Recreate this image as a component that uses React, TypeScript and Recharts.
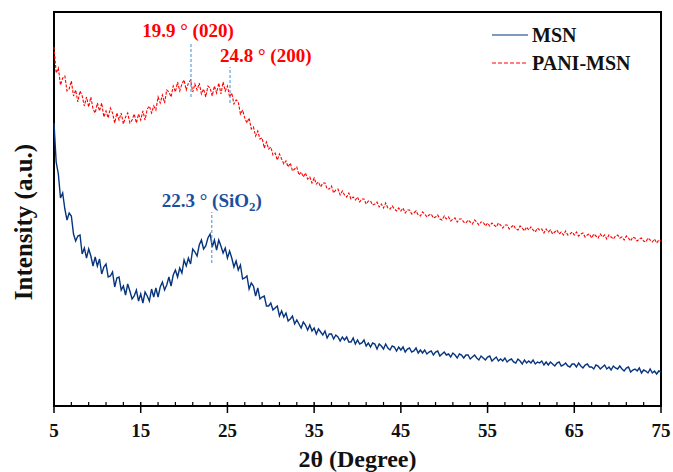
import { LineChart, Line, XAxis, YAxis, ReferenceLine, ReferenceArea, Legend } from "recharts";

// 2θ grid of the scan: 5° to 75° every 0.25°
const START = 5;
const STEP = 0.25;

// intensity (a.u.), one row per 5°
const msn = [
  283, 244, 232, 208, 213, 197, 186, 193, 190, 172, 165, 170, 171, 152, 158, 148, 157, 150, 140, 149,
  140, 147, 132, 139, 142, 129, 130, 134, 119, 128, 129, 116, 120, 111, 122, 115, 107, 110, 116, 105,
  112, 103, 114, 110, 105, 117, 109, 118, 109, 119, 124, 116, 121, 129, 120, 131, 136, 129, 138, 133,
  146, 140, 148, 142, 157, 154, 150, 161, 166, 157, 160, 168, 172, 159, 166, 156, 166, 160, 153, 158,
  148, 155, 148, 139, 145, 136, 141, 127, 128, 130, 117, 123, 120, 110, 118, 107, 109, 110, 100, 100,
  103, 96, 98, 100, 90, 95, 89, 93, 85, 87, 90, 82, 86, 82, 78, 84, 81, 76, 81, 75,
  78, 72, 77, 74, 71, 75, 68, 72, 72, 67, 71, 69, 65, 69, 66, 69, 64, 64, 68, 62,
  66, 62, 63, 66, 60, 63, 59, 63, 62, 57, 62, 60, 57, 62, 58, 56, 60, 59, 55, 59,
  56, 59, 54, 57, 58, 54, 55, 58, 53, 56, 53, 56, 52, 54, 55, 51, 54, 55, 50, 52,
  54, 51, 52, 49, 53, 51, 48, 52, 51, 48, 51, 51, 47, 49, 51, 48, 46, 50, 48, 46,
  49, 50, 45, 47, 49, 45, 47, 45, 48, 44, 46, 47, 44, 43, 47, 45, 42, 46, 43, 45,
  43, 46, 42, 44, 43, 45, 41, 44, 41, 44, 42, 40, 43, 44, 40, 41, 43, 40, 39, 42,
  42, 39, 43, 40, 38, 41, 42, 39, 39, 37, 41, 40, 37, 39, 41, 37, 39, 36, 40, 38,
  37, 40, 37, 35, 38, 39, 34, 36, 37, 35, 38, 33, 36, 35, 33, 37, 33, 35, 32, 35, 34,
];

const paniMsn = [
  359, 333, 338, 321, 328, 330, 315, 317, 325, 310, 316, 304, 315, 310, 300, 309, 299, 309, 297, 293,
  303, 295, 303, 289, 295, 288, 298, 293, 283, 293, 286, 293, 282, 289, 293, 283, 286, 292, 283, 292,
  286, 295, 286, 297, 300, 293, 300, 296, 309, 303, 311, 303, 316, 314, 309, 320, 314, 324, 315, 322,
  326, 316, 323, 326, 314, 322, 316, 323, 312, 317, 309, 320, 318, 310, 320, 313, 323, 312, 324, 315,
  320, 309, 313, 302, 306, 304, 292, 296, 288, 283, 288, 277, 279, 270, 275, 267, 268, 258, 264, 257,
  259, 251, 253, 246, 252, 247, 242, 245, 239, 243, 235, 237, 239, 231, 234, 229, 233, 227, 229, 223,
  228, 222, 224, 219, 223, 223, 217, 217, 220, 213, 216, 217, 211, 215, 211, 209, 213, 207, 209, 206,
  209, 204, 207, 207, 202, 205, 205, 201, 202, 204, 199, 202, 198, 203, 198, 197, 200, 197, 195, 198,
  195, 198, 193, 196, 196, 192, 193, 195, 191, 190, 194, 192, 189, 191, 192, 188, 189, 191, 187, 186,
  190, 187, 189, 185, 187, 188, 184, 187, 187, 184, 183, 186, 184, 182, 186, 184, 181, 184, 184, 180,
  183, 180, 183, 181, 179, 183, 181, 178, 181, 181, 177, 179, 181, 177, 176, 180, 178, 175, 179, 176,
  179, 176, 174, 178, 176, 177, 173, 177, 174, 176, 172, 174, 176, 172, 174, 171, 175, 171, 172, 174,
  171, 174, 170, 172, 173, 169, 171, 172, 168, 172, 170, 168, 172, 169, 171, 167, 171, 169, 167, 170,
  171, 168, 169, 166, 170, 168, 165, 169, 168, 165, 167, 168, 165, 164, 168, 166, 164, 167, 163, 166, 165,
];

const xTicks = [
  5, 7, 9, 11, 13, 15, 17, 19, 21, 23, 25, 27, 29, 31, 33, 35, 37, 39, 41, 43, 45,
  47, 49, 51, 53, 55, 57, 59, 61, 63, 65, 67, 69, 71, 73, 75,
];
const xLabels = [5, 15, 25, 35, 45, 55, 65, 75];

// peak markers: position, dashed line span, label
const peakX = [20.8, 25.3, 23.2];
const peakFrom = [309, 303, 143];
const peakTo = [364, 339, 194];
const peakText = ["19.9 ° (020)", "24.8 ° (200)", "22.3 ° (SiO"];
const peakSub = ["", "", "2"];
const peakTail = ["", "", ")"];

const seriesNames = ["MSN", "PANI-MSN"];

const data = msn.map((v, i) => ({
  x: START + i * STEP,
  msn: v,
  pani: paniMsn[i],
}));

const FONT = '"Liberation Serif", "Times New Roman", serif';
const NAVY = "#06347e";
const RED = "#ff0000";

const XTick = ({ x, y, payload }: any) => {
  const major = xLabels.includes(payload.value);
  return (
    <g>
      {major ? (
        <line x1={x} x2={x} y1={y - 4} y2={y + 7} stroke="#000" strokeWidth={1.5} />
      ) : (
        <line x1={x} x2={x} y1={y - 4} y2={y} stroke="#000" strokeWidth={1.2} />
      )}
      {major && (
        <text x={x} y={y + 31} textAnchor="middle" fontFamily={FONT} fontWeight={700} fontSize={19} fill="#111">
          {payload.value}
        </text>
      )}
    </g>
  );
};

const peakLabel = (i: number) => (props: any) => {
  const vb = props.viewBox || {};
  const color = i === 2 ? "#1d4f9c" : RED;
  const anchor = i === 1 ? "start" : "middle";
  const dx = i === 1 ? -10 : i === 0 ? -3 : 0;
  return (
    <text
      x={vb.x + dx}
      y={vb.y - 5}
      textAnchor={anchor}
      fontFamily={FONT}
      fontWeight={700}
      fontSize={19}
      fill={color}
    >
      {peakText[i]}
      {peakSub[i] && (
        <tspan fontSize={13} dy={4}>
          {peakSub[i]}
        </tspan>
      )}
      {peakTail[i] && <tspan dy={-4}>{peakTail[i]}</tspan>}
    </text>
  );
};

// both axis titles hang off the x axis box (plot is 394px tall)
const axisTitles = (props: any) => {
  const vb = props.viewBox;
  const cx = vb.x - 22;
  const cy = vb.y - 394 / 2 + 13;
  return (
    <g fontFamily={FONT} fontWeight={700} fill="#111">
      <text x={vb.x + vb.width / 2} y={vb.y + 61} textAnchor="middle" fontSize={24}>
        2θ (Degree)
      </text>
      <text x={cx} y={cy} transform={`rotate(-90, ${cx}, ${cy})`} textAnchor="middle" fontSize={25}>
        Intensity (a.u.)
      </text>
    </g>
  );
};

const renderLegend = () => (
  <div style={{ fontFamily: FONT, fontWeight: 700, fontSize: 20, color: "#111" }}>
    {seriesNames.map((name, i) => (
      <div key={name} style={{ display: "flex", alignItems: "center", height: 28 }}>
        <svg width={40} height={10}>
          <line
            x1={2}
            x2={38}
            y1={5}
            y2={5}
            stroke={i === 0 ? NAVY : RED}
            strokeWidth={1.2}
            strokeDasharray={i === 0 ? undefined : "4 2"}
          />
        </svg>
        <span style={{ marginLeft: 2, lineHeight: "20px" }}>{name}</span>
      </div>
    ))}
  </div>
);

export default function App() {
  return (
    <div style={{ position: "absolute", left: 0, top: 0, background: "#fff" }}>
      <LineChart
        width={673}
        height={472}
        data={data}
        margin={{ top: 12, right: 12, left: 54, bottom: 36 }}
      >
        <XAxis
          dataKey="x"
          type="number"
          domain={[5, 75]}
          ticks={xTicks}
          interval={0}
          tick={<XTick />}
          tickLine={false}
          tickSize={0}
          tickMargin={0}
          height={30}
          axisLine={{ stroke: "#000", strokeWidth: 2 }}
          label={{ content: axisTitles }}
        />
        <YAxis
          type="number"
          domain={[0, 394]}
          width={0}
          tick={false}
          tickLine={false}
          axisLine={{ stroke: "#000", strokeWidth: 2 }}
        />
        <ReferenceArea x1={5} x2={75} y1={0} y2={394} fill="none" stroke="#000" strokeWidth={2} />
        <Line
          dataKey="pani"
          name={seriesNames[1]}
          stroke={RED}
          strokeWidth={1.1}
          strokeDasharray="3 1.5"
          dot={false}
          isAnimationActive={false}
        />
        <Line
          dataKey="msn"
          name={seriesNames[0]}
          stroke={NAVY}
          strokeWidth={1.4}
          dot={false}
          isAnimationActive={false}
        />
        {peakX.map((px, i) => (
          <ReferenceLine
            key={i}
            segment={[
              { x: px, y: peakFrom[i] },
              { x: px, y: peakTo[i] },
            ]}
            stroke="#3b8fd6"
            strokeWidth={1}
            strokeDasharray="3 2"
            label={{ content: peakLabel(i) }}
          />
        ))}
        <Legend
          layout="vertical"
          verticalAlign="middle"
          align="center"
          content={renderLegend}
          wrapperStyle={{ left: 490, top: 21, width: 180 }}
        />
      </LineChart>
    </div>
  );
}
